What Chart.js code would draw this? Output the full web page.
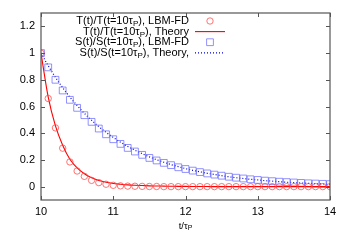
<!DOCTYPE html>
<html>
<head>
<meta charset="utf-8">
<script src="https://cdn.jsdelivr.net/npm/chart.js@4/dist/chart.umd.min.js"></script>
<style>
html,body{margin:0;padding:0;background:#fff;}
#wrap{width:350px;height:245px;position:relative;}
</style>
</head>
<body>
<div id="wrap"><canvas id="c" width="350" height="245"></canvas></div>
<script>
// ---- data ----
const times = [10.0,10.1,10.2,10.3,10.4,10.5,10.6,10.7,10.8,10.9,
               11.0,11.1,11.2,11.3,11.4,11.5,11.6,11.7,11.8,11.9,
               12.0,12.1,12.2,12.3,12.4,12.5,12.6,12.7,12.8,12.9,
               13.0,13.1,13.2,13.3,13.4,13.5,13.6,13.7,13.8,13.9,14.0];
const tLbm = [1.0,0.66,0.44,0.288,0.185,0.117,0.077,0.047,0.030,0.018,
              0.010,0.006,0.004,0.003,0.002,0.001,0.001,0.0,0.0,0.0,
              0.0,0.0,0.0,0.0,0.0,0.0,0.0,0.0,0.0,0.0,
              0.0,0.0,0.0,0.0,0.0,0.0,0.0,0.0,0.0,0.0,0.0];
const tTheory = [1.0,0.67,0.455,0.31,0.205,0.14,0.097,0.066,0.046,0.033,
                 0.024,0.018,0.013,0.010,0.008,0.006,0.005,0.004,0.003,0.002,
                 0.002,0.001,0.001,0.001,0.0,0.0,0.0,0.0,0.0,0.0,
                 0.0,0.0,0.0,0.0,0.0,0.0,0.0,0.0,0.0,0.0,0.0];
const sLbm = [1.0,0.893,0.80,0.72,0.65,0.59,0.535,0.485,0.435,0.392,
              0.355,0.32,0.29,0.263,0.238,0.215,0.196,0.178,0.161,0.145,
              0.132,0.12,0.109,0.099,0.09,0.082,0.074,0.067,0.061,0.055,
              0.05,0.045,0.041,0.037,0.034,0.031,0.028,0.025,0.023,0.021,0.019];
const sTheory = [1.0,0.905,0.819,0.741,0.670,0.607,0.549,0.497,0.449,0.407,
                 0.368,0.333,0.301,0.273,0.247,0.223,0.202,0.183,0.165,0.150,
                 0.135,0.122,0.111,0.100,0.091,0.082,0.074,0.067,0.061,0.055,
                 0.050,0.045,0.041,0.037,0.033,0.030,0.027,0.025,0.022,0.020,0.018];
const xTickVals = [10,11,12,13,14];
const yTickVals = [0,0.2,0.4,0.6,0.8,1.0,1.2];
const yTickLabels = ['0','0.2','0.4','0.6','0.8','1','1.2'];
const seriesLabels = ['T(t)/T(t=10τ_P), LBM-FD','T(t)/T(t=10τ_P), Theory',
                      'S(t)/S(t=10τ_P), LBM-FD','S(t)/S(t=10τ_P), Theory,'];
const xTitle = 't/τ_P';

const pts = (ys) => times.map((t,i)=>({x:t,y:ys[i]}));
const FONT = '"Liberation Sans", Arial, sans-serif';

function richText(ctx, str, x, y, align, size, subSize, subOff){
  const segs=[];
  for(let i=0;i<str.length;i++){
    if(str[i]==='_' && i+1<str.length){segs.push({t:str[i+1],sub:true});i++;}
    else{ if(segs.length && !segs[segs.length-1].sub) segs[segs.length-1].t+=str[i]; else segs.push({t:str[i],sub:false}); }
  }
  const fN=size+'px '+FONT, fS=subSize+'px '+FONT;
  let w=0;
  segs.forEach(s=>{ctx.font=s.sub?fS:fN; s.w=ctx.measureText(s.t).width; w+=s.w;});
  let cx = align==='right'? x-w : (align==='center'? x-w/2 : x);
  ctx.textBaseline='middle'; ctx.textAlign='left';
  segs.forEach(s=>{ctx.font=s.sub?fS:fN; ctx.fillText(s.t,cx,s.sub?y+subOff:y); cx+=s.w;});
}

const framePlugin = {
  id:'frame',
  afterDatasetsDraw(chart){
    const {ctx, chartArea:a, scales:{x,y}} = chart;
    ctx.save();
    ctx.strokeStyle='#555'; ctx.lineWidth=1.2;
    ctx.strokeRect(a.left,a.top,a.right-a.left,a.bottom-a.top);
    ctx.lineWidth=1;
    const L=4;
    xTickVals.forEach(v=>{const px=Math.round(x.getPixelForValue(v))+0.5;
      ctx.beginPath();ctx.moveTo(px,a.bottom);ctx.lineTo(px,a.bottom-L);
      ctx.moveTo(px,a.top);ctx.lineTo(px,a.top+L);ctx.stroke();});
    yTickVals.forEach(v=>{const py=Math.round(y.getPixelForValue(v))+0.5;
      ctx.beginPath();ctx.moveTo(a.left,py);ctx.lineTo(a.left+L,py);
      ctx.moveTo(a.right,py);ctx.lineTo(a.right-L,py);ctx.stroke();});
    // legend
    const lx=189, sx0=195, sx1=225, scx=210, y0=21, dy=10.6;
    chart.data.datasets.forEach((ds,i)=>{
      const yy=y0+i*dy;
      ctx.fillStyle='#000';
      richText(ctx, seriesLabels[i], lx, yy, 'right', 11, 8, 3);
      ctx.strokeStyle=ds.borderColor; ctx.lineWidth=ds.borderWidth;
      if(ds.showLine===false){
        ctx.beginPath();
        if(ds.pointStyle==='circle'){ctx.arc(scx,yy,ds.pointRadius,0,Math.PI*2);}
        else{const s=ds.pointRadius*Math.SQRT1_2; ctx.rect(scx-s,yy-s,2*s,2*s);}
        ctx.stroke();
      } else {
        ctx.setLineDash(ds.borderDash||[]);
        ctx.beginPath();ctx.moveTo(sx0,yy);ctx.lineTo(sx1,yy);ctx.stroke();
        ctx.setLineDash([]);
      }
    });
    // x title
    ctx.fillStyle='#000';
    richText(ctx, xTitle, (a.left+a.right)/2, 226, 'center', 9.5, 7, 2.5);
    ctx.restore();
  }
};

new Chart(document.getElementById('c'), {
  type:'scatter',
  data:{datasets:[
    {label:seriesLabels[0], data:pts(tLbm), showLine:false, pointStyle:'circle',
     pointRadius:3.2, borderColor:'rgba(255,70,70,0.75)', backgroundColor:'rgba(0,0,0,0)', borderWidth:1, pointBorderWidth:1},
    {label:seriesLabels[1], data:pts(tTheory), showLine:true, pointRadius:0, borderColor:'#ff0000',
     borderWidth:1.1, cubicInterpolationMode:'monotone', fill:false},
    {label:seriesLabels[2], data:pts(sLbm), showLine:false, pointStyle:'rect',
     pointRadius:4.8, borderColor:'rgba(100,100,255,0.7)', backgroundColor:'rgba(0,0,0,0)', borderWidth:1, pointBorderWidth:1},
    {label:seriesLabels[3], data:pts(sTheory), showLine:true, pointRadius:0, borderColor:'#0000dd',
     borderWidth:1.2, borderDash:[1,2], cubicInterpolationMode:'monotone', fill:false}
  ]},
  options:{
    responsive:false, animation:false, devicePixelRatio:1,
    layout:{padding:{top:13,right:20,left:0,bottom:0}},
    plugins:{legend:{display:false}, tooltip:{enabled:false}},
    scales:{
      x:{type:'linear', min:10, max:14,
        afterBuildTicks:(s)=>{s.ticks=xTickVals.map(v=>({value:v}));},
        afterFit:(s)=>{s.height=45;},
        grid:{display:false, drawTicks:false}, border:{display:false},
        ticks:{padding:5, color:'#000', font:{family:FONT,size:11}}},
      y:{type:'linear', min:-0.1, max:1.3,
        afterBuildTicks:(s)=>{s.ticks=yTickVals.map(v=>({value:v}));},
        afterFit:(s)=>{s.width=41;},
        grid:{display:false, drawTicks:false}, border:{display:false},
        ticks:{padding:6, color:'#000', font:{family:FONT,size:11},
          callback:(v)=>{const i=yTickVals.findIndex(t=>Math.abs(t-v)<1e-9); return i>=0?yTickLabels[i]:'';}}}
    }
  },
  plugins:[framePlugin]
});
</script>
</body>
</html>
